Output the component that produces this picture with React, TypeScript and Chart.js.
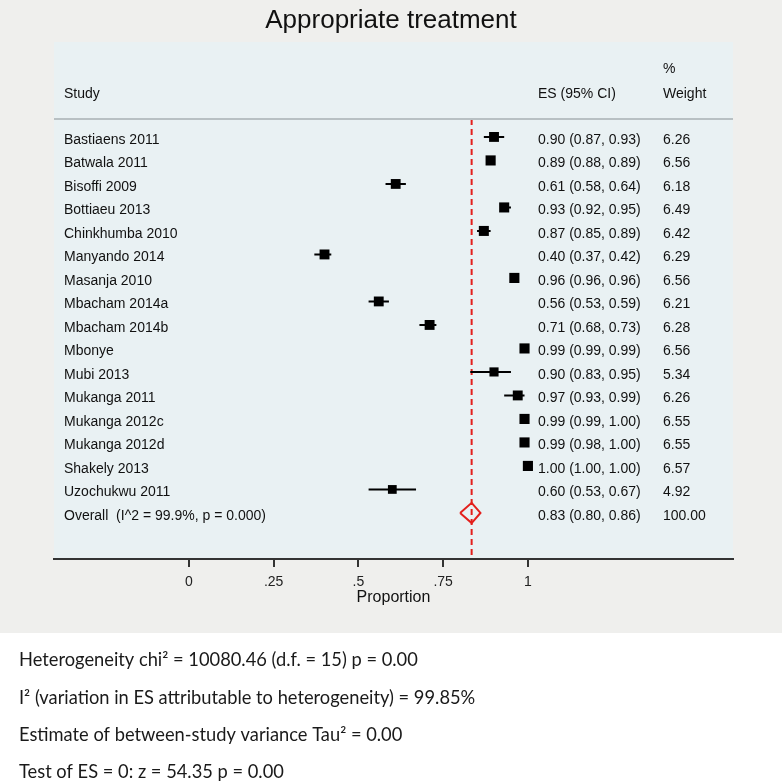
import React, { useEffect, useRef } from "react";
import { Chart, registerables } from "chart.js";

Chart.register(...registerables);

const studies = [
  "Bastiaens 2011", "Batwala 2011", "Bisoffi 2009", "Bottiaeu 2013", "Chinkhumba 2010",
  "Manyando 2014", "Masanja 2010", "Mbacham 2014a", "Mbacham 2014b", "Mbonye",
  "Mubi 2013", "Mukanga 2011", "Mukanga 2012c", "Mukanga 2012d", "Shakely 2013", "Uzochukwu 2011",
];
const es = [0.90, 0.89, 0.61, 0.93, 0.87, 0.40, 0.96, 0.56, 0.71, 0.99, 0.90, 0.97, 0.99, 0.99, 1.00, 0.60];
const ciLow = [0.87, 0.88, 0.58, 0.92, 0.85, 0.37, 0.96, 0.53, 0.68, 0.99, 0.83, 0.93, 0.99, 0.98, 1.00, 0.53];
const ciHigh = [0.93, 0.89, 0.64, 0.95, 0.89, 0.42, 0.96, 0.59, 0.73, 0.99, 0.95, 0.99, 1.00, 1.00, 1.00, 0.67];
const weights = [6.26, 6.56, 6.18, 6.49, 6.42, 6.29, 6.56, 6.21, 6.28, 6.56, 5.34, 6.26, 6.55, 6.55, 6.57, 4.92];

const overallLabel = "Overall  (I^2 = 99.9%, p = 0.000)";
const overallES = 0.834;
const overallLow = 0.80;
const overallHigh = 0.86;
const overallWeight = 100.0;

const xTicks = [0, 0.25, 0.5, 0.75, 1];
const title = "Appropriate treatment";
const statsLines = [
  "Heterogeneity chi\u00B2 = 10080.46 (d.f. = 15) p = 0.00",
  "I\u00B2 (variation in ES attributable to heterogeneity) = 99.85%",
  "Estimate of between-study variance Tau\u00B2 = 0.00",
  "Test of ES = 0: z = 54.35 p = 0.00",
];

const W = 782;
const H = 784;
const SANS = "'Liberation Sans', Arial, sans-serif";
const RED = "#e3201c";

export default function App() {
  const ref = useRef<HTMLCanvasElement | null>(null);

  useEffect(() => {
    const canvas = ref.current;
    if (!canvas) return;
    const overallRow = studies.length;

    const fmt = (v: number) => v.toFixed(2);

    const bgPlugin = {
      id: "bg",
      beforeDraw(chart: any) {
        const { ctx, chartArea } = chart;
        ctx.save();
        ctx.fillStyle = "#ffffff";
        ctx.fillRect(0, 0, W, H);
        ctx.fillStyle = "#efefed";
        ctx.fillRect(0, 0, W, 633);
        ctx.fillStyle = "#e9f1f3";
        ctx.fillRect(chartArea.left, chartArea.top, chartArea.right - chartArea.left, chartArea.bottom - chartArea.top);
        ctx.restore();
      },
    };

    const textPlugin = {
      id: "texts",
      afterDraw(chart: any) {
        const { ctx, chartArea } = chart;
        const y = chart.scales.y;
        ctx.save();
        // header separator
        ctx.strokeStyle = "#b8c0c3";
        ctx.lineWidth = 2;
        ctx.beginPath();
        ctx.moveTo(chartArea.left, 119);
        ctx.lineTo(chartArea.right, 119);
        ctx.stroke();

        ctx.fillStyle = "#111";
        ctx.textBaseline = "alphabetic";
        ctx.textAlign = "center";
        ctx.font = `26px ${SANS}`;
        ctx.fillText(title, W / 2, 28);

        ctx.textAlign = "left";
        ctx.font = `14px ${SANS}`;
        ctx.fillText("Study", 64, 98);
        ctx.fillText("ES (95% CI)", 538, 98);
        ctx.fillText("%", 663, 73);
        ctx.fillText("Weight", 663, 98);

        studies.forEach((s, i) => {
          const py = y.getPixelForValue(i) + 7;
          ctx.fillText(s, 64, py);
          ctx.fillText(`${fmt(es[i])} (${fmt(ciLow[i])}, ${fmt(ciHigh[i])})`, 538, py);
          ctx.fillText(fmt(weights[i]), 663, py);
        });
        const oy = y.getPixelForValue(overallRow) + 7;
        ctx.fillText(overallLabel, 64, oy);
        ctx.fillText(`${fmt(overallES)} (${fmt(overallLow)}, ${fmt(overallHigh)})`, 538, oy);
        ctx.fillText(fmt(overallWeight), 663, oy);

        ctx.fillStyle = "#1a1a1a";
        ctx.font = `18.3px Lato, 'Open Sans', sans-serif`;
        const bases = [666, 704, 741, 778];
        statsLines.forEach((l, i) => ctx.fillText(l, 19, bases[i]));
        ctx.restore();
      },
    };

    const ciData: any[] = [];
    studies.forEach((_, i) => {
      ciData.push({ x: ciLow[i], y: i });
      ciData.push({ x: ciHigh[i], y: i });
      ciData.push({ x: ciHigh[i], y: null });
    });

    const dh = 0.43;
    const chart = new Chart(canvas, {
      type: "scatter",
      data: {
        datasets: [
          {
            type: "scatter",
            data: studies.map((_, i) => ({ x: es[i], y: i })),
            pointStyle: "rect",
            pointRadius: weights.map((w) => (3.95 * Math.sqrt(w)) / Math.SQRT2),
            pointHoverRadius: weights.map((w) => (3.95 * Math.sqrt(w)) / Math.SQRT2),
            backgroundColor: "#000",
            borderWidth: 0,
            order: 0,
          } as any,
          {
            type: "line",
            data: ciData,
            borderColor: "#000",
            borderWidth: 2,
            pointRadius: 0,
            spanGaps: false,
            fill: false,
            order: 1,
          } as any,
          {
            type: "line",
            data: [
              { x: overallLow, y: overallRow },
              { x: overallES, y: overallRow - dh },
              { x: overallHigh, y: overallRow },
              { x: overallES, y: overallRow + dh },
              { x: overallLow, y: overallRow },
            ],
            borderColor: RED,
            borderWidth: 2,
            pointRadius: 0,
            fill: false,
            tension: 0,
            order: 2,
          } as any,
          {
            type: "line",
            data: [
              { x: overallES, y: -0.76 },
              { x: overallES, y: 17.96 },
            ],
            borderColor: RED,
            borderWidth: 2,
            borderDash: [6, 4],
            pointRadius: 0,
            fill: false,
            order: 3,
          } as any,
        ],
      },
      options: {
        animation: false,
        responsive: false,
        devicePixelRatio: 1,
        layout: { padding: { left: 54, right: 49, top: 42, bottom: 177 } },
        plugins: { legend: { display: false }, tooltip: { enabled: false }, title: { display: false } },
        scales: {
          x: {
            type: "linear",
            min: -0.398,
            max: 1.605,
            afterBuildTicks: (s: any) => {
              s.ticks = xTicks.map((v) => ({ value: v }));
            },
            afterFit: (s: any) => {
              s.height = 48;
            },
            ticks: {
              autoSkip: false,
              maxRotation: 0,
              padding: 7,
              color: "#222",
              font: { family: SANS, size: 14 },
              callback: (v: any) => {
                const n = Number(v);
                if (n === 0) return "0";
                if (n === 1) return "1";
                return String(n).replace(/^0/, "");
              },
            },
            grid: { drawOnChartArea: false, drawTicks: true, tickLength: 8, color: "#333", lineWidth: 2 },
            border: { display: true, color: "#333", width: 2 },
            title: {
              display: true,
              text: "Proportion",
              color: "#111",
              font: { family: SANS, size: 16 },
              padding: { top: 0, bottom: 0 },
            },
          },
          y: { type: "linear", display: false, min: -4.04, max: 17.96, reverse: true },
        },
      } as any,
      plugins: [bgPlugin, textPlugin],
    });
    return () => chart.destroy();
  }, []);

  return (
    <div style={{ position: "absolute", left: 0, top: 0, width: W, height: H }}>
      <canvas ref={ref} width={W} height={H} style={{ display: "block", width: W, height: H }} />
    </div>
  );
}
